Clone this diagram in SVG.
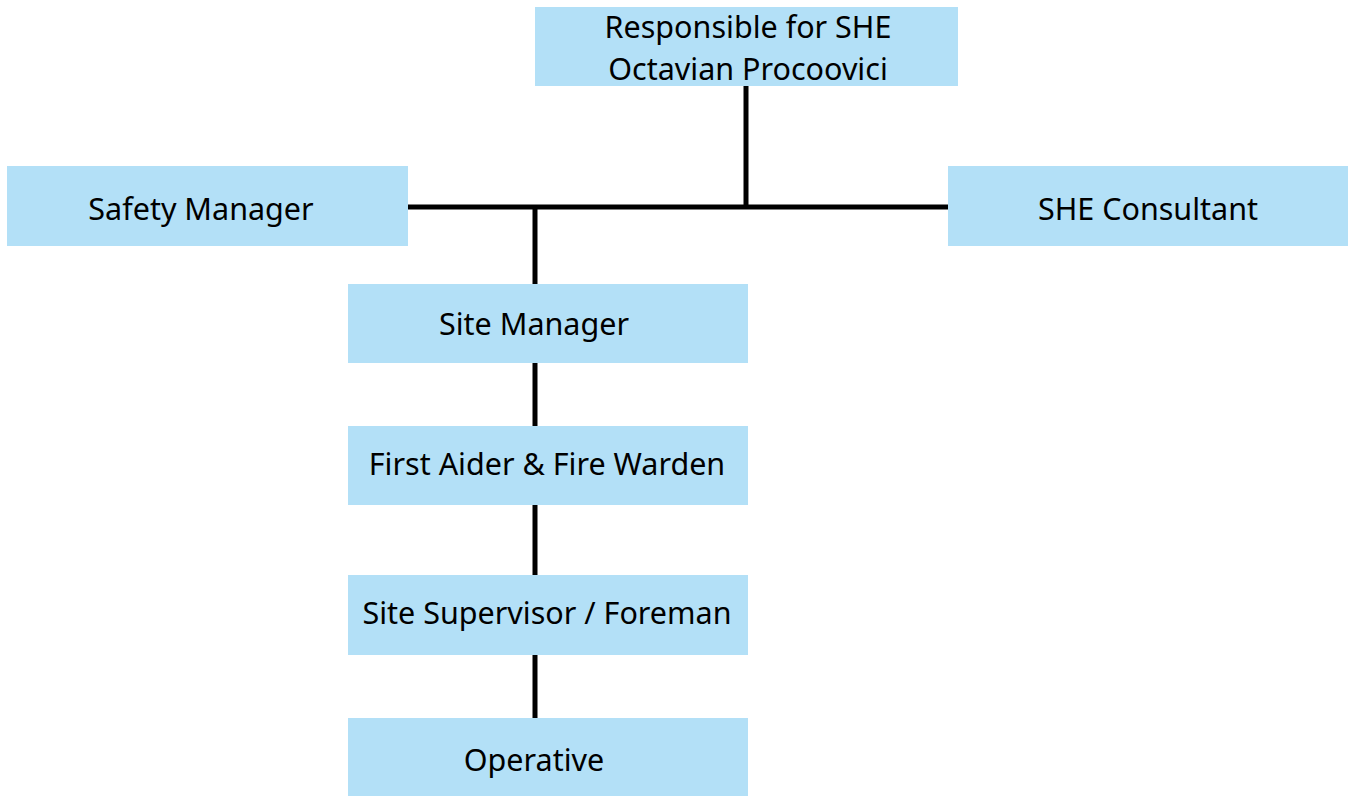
<svg xmlns="http://www.w3.org/2000/svg" width="1352" height="796" viewBox="0 0 1352 796">
<style>
.box{fill:#b3e0f7}
.t{font-family:"Noto Sans","Open Sans",sans-serif;font-size:30.5px;fill:#000;text-anchor:middle}
.c{stroke:#000;stroke-width:5;fill:none}
</style>
<rect width="1352" height="796" fill="#fff"/>
<g id="connectors">
<line class="c" x1="746" y1="86" x2="746" y2="207"/>
<line class="c" x1="408" y1="207" x2="948" y2="207"/>
<line class="c" x1="535" y1="207" x2="535" y2="284"/>
<line class="c" x1="535" y1="363" x2="535" y2="426"/>
<line class="c" x1="535" y1="505" x2="535" y2="575"/>
<line class="c" x1="535" y1="655" x2="535" y2="718"/>
</g>
<g id="top"><rect class="box" x="535" y="7" width="423" height="79"/>
<text class="t" x="748" y="38">Responsible for SHE</text>
<text class="t" x="748" y="80">Octavian Procoovici</text></g>
<g id="safety"><rect class="box" x="7" y="166" width="401" height="80"/>
<text class="t" x="201" y="220">Safety Manager</text></g>
<g id="consultant"><rect class="box" x="948" y="166" width="400" height="80"/>
<text class="t" x="1148" y="220">SHE Consultant</text></g>
<g id="sitemanager"><rect class="box" x="348" y="284" width="400" height="79"/>
<text class="t" x="534" y="335">Site Manager</text></g>
<g id="firstaider"><rect class="box" x="348" y="426" width="400" height="79"/>
<text class="t" x="547" y="475">First Aider &amp; Fire Warden</text></g>
<g id="supervisor"><rect class="box" x="348" y="575" width="400" height="80"/>
<text class="t" x="547" y="624">Site Supervisor / Foreman</text></g>
<g id="operative"><rect class="box" x="348" y="718" width="400" height="78"/>
<text class="t" x="534" y="771">Operative</text></g>
</svg>
